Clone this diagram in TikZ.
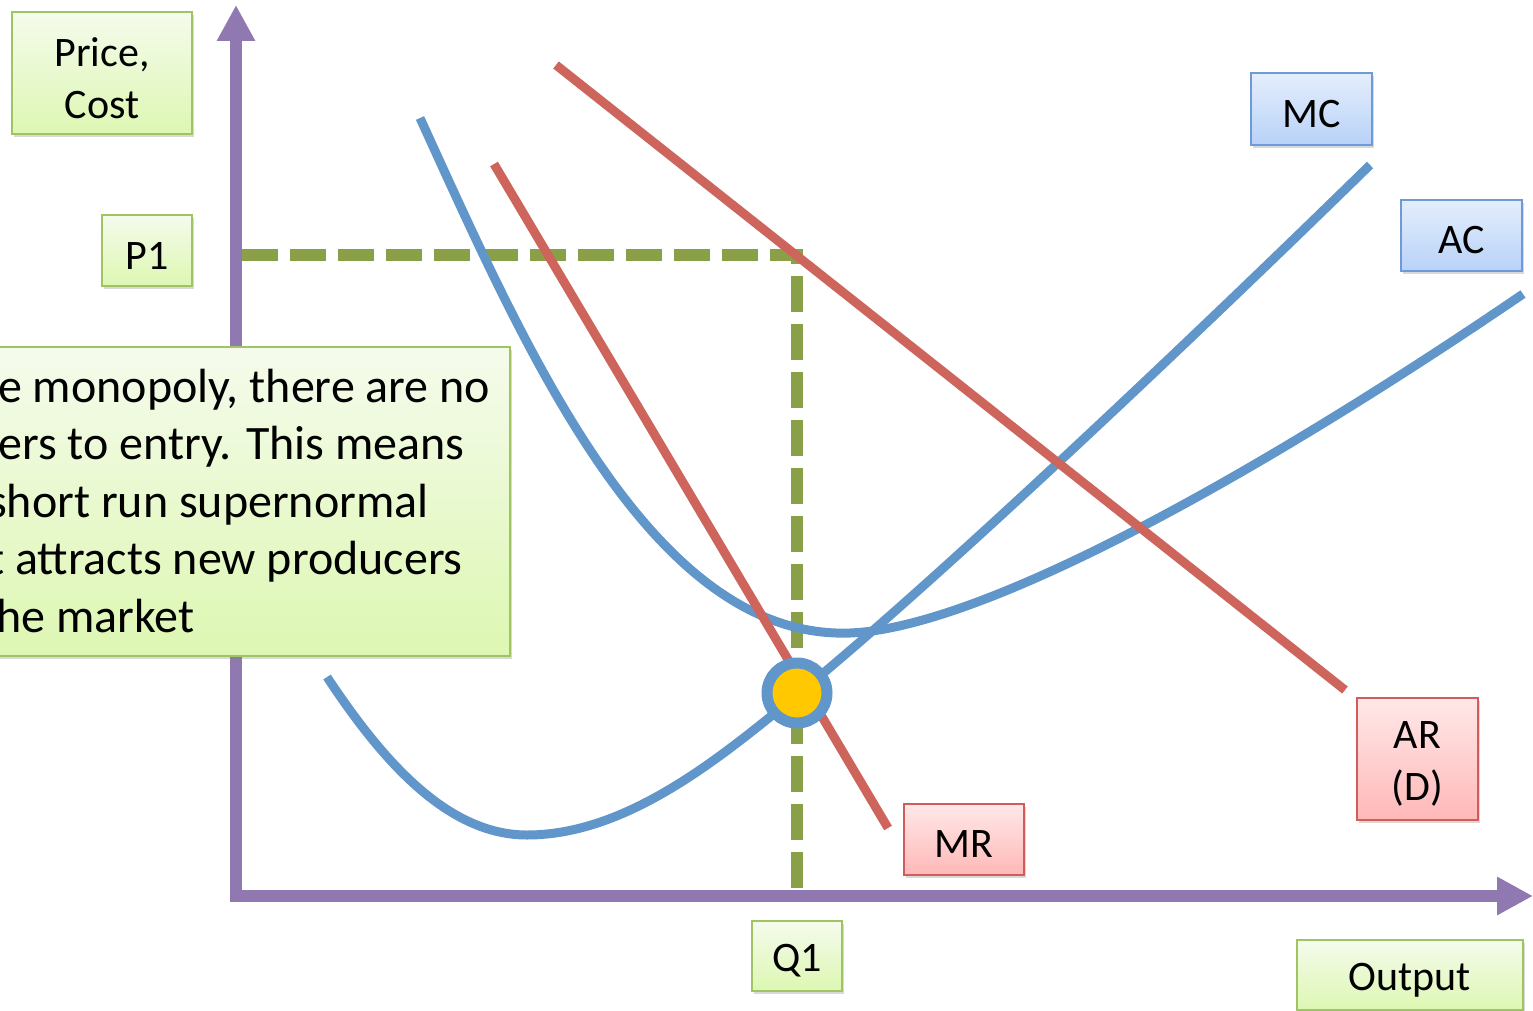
\documentclass[tikz,border=0pt]{standalone}
\usepackage{fontspec}
\setmainfont{Carlito}
\usetikzlibrary{shadows,arrows.meta}
\definecolor{axiscol}{RGB}{143,121,176}
\definecolor{dashcol}{RGB}{137,160,72}
\definecolor{bluecol}{RGB}{96,150,202}
\definecolor{redcol}{RGB}{206,101,92}
\definecolor{dotcol}{RGB}{255,200,0}
\definecolor{gborder}{RGB}{160,196,100}
\definecolor{gtop}{RGB}{245,251,236}
\definecolor{gbot}{RGB}{221,247,178}
\definecolor{bborder}{RGB}{110,155,215}
\definecolor{btop}{RGB}{228,238,252}
\definecolor{bbot}{RGB}{184,210,248}
\definecolor{rborder}{RGB}{210,92,92}
\definecolor{rtop}{RGB}{255,232,232}
\definecolor{rbot}{RGB}{255,184,184}
\newcommand\lowr[1]{\raisebox{-5pt}[\height][\depth]{#1}}
\begin{document}
\begin{tikzpicture}[x=1pt,y=-1pt,
  box/.style={line width=1.6pt, inner sep=0pt, align=center,
    font=\fontsize{42}{52}\selectfont,
    drop shadow={shadow xshift=2pt, shadow yshift=-3pt, opacity=0.3}},
  gbox/.style={box, draw=gborder, top color=gtop, bottom color=gbot},
  bbox/.style={box, draw=bborder, top color=btop, bottom color=bbot},
  rbox/.style={box, draw=rborder, top color=rtop, bottom color=rbot},
  axisline/.style={draw=axiscol, line width=12pt, -{Triangle[length=36pt,width=36pt]}},
  guide/.style={draw=dashcol, line width=12pt, dash pattern=on 36pt off 12pt},
  shd/.style={preaction={draw=black, opacity=0.15, transform canvas={xshift=1.5pt, yshift=-2.5pt}}},
  bluecurve/.style={draw=bluecol, line width=9pt, shd},
  redline/.style={draw=redcol, line width=9pt, shd},
  bodytext/.style={inner sep=0pt, anchor=base west, font=\fontsize{48}{57}\selectfont},
]
\useasboundingbox (0,0) rectangle (1533,1011);
\clip (0,0) rectangle (1533,1011);

% axes
\coordinate (O) at (236,896);
\coordinate (ybot) at (236,902);
\coordinate (ytop) at (236,5);
\coordinate (xbeg) at (230,896);
\coordinate (xend) at (1533,896);
\draw[axisline] (ybot) -- (ytop);
\draw[axisline] (xbeg) -- (xend);

% guides
\coordinate (gstart) at (242,255);
\coordinate (P) at (797,255);
\coordinate (Q) at (797,890);
\draw[guide] (gstart) -- (P) -- (Q);

% AC curve
\coordinate (ac0) at (420,118);
\coordinate (acmin) at (850,633);
\coordinate (ac1) at (1523,294);
\draw[bluecurve] (ac0) .. controls (524,345) and (650,640) .. (acmin)
  .. controls (980,628) and (1250,480) .. (ac1);
% MC curve
\coordinate (mc0) at (327,677);
\coordinate (mcmin) at (527,835);
\coordinate (mc1) at (1370,165);
\draw[bluecurve] (mc0) .. controls (382,760) and (447,835) .. (mcmin)
  .. controls (627,835) and (720,758) .. (797,695)
  .. controls (952,568) and (1227,305) .. (mc1);

\coordinate (ar1) at (556,65);
\coordinate (ar2) at (1345,690);
\coordinate (mr1) at (494,164);
\coordinate (mr2) at (888,828);
\draw[redline] (ar1) -- (ar2);
\draw[redline] (mr1) -- (mr2);

% equilibrium point
\node[circle, draw=bluecol, line width=11pt, fill=dotcol, minimum size=60pt, inner sep=0pt] (E) at (797,693) {};

% labels
\node[gbox, minimum width=180pt, minimum height=122pt] (price) at (102,73) {\lowr{Price,}\\\lowr{Cost}};
\node[gbox, minimum width=90pt, minimum height=71pt] (p1) at (147,250.5) {\lowr{P1}};
\node[bbox, minimum width=121pt, minimum height=72pt] (mc) at (1311.5,109) {\lowr{MC}};
\node[bbox, minimum width=121pt, minimum height=71pt] (ac) at (1461.5,235.5) {\lowr{AC}};
\node[rbox, minimum width=121pt, minimum height=122pt] (ar) at (1417.5,759) {\lowr{AR}\\\lowr{(D)}};
\node[rbox, minimum width=120pt, minimum height=71pt] (mr) at (964,839.5) {\lowr{MR}};
\node[gbox, minimum width=90pt, minimum height=70pt] (q1) at (797,956) {\lowr{Q1}};
\node[gbox, minimum width=226pt, minimum height=70pt] (out) at (1410,975) {\lowr{Output}};

% text box
\node[gbox, minimum width=530pt, minimum height=309pt] (tb) at (245,501.5) {};
\node[bodytext] (l1) at (-2,402) {e monopoly, there are no};
\node[bodytext] (l2) at (-2,459.5) {ers to entry. This means};
\node[bodytext] (l3) at (-12,517) {short run supernormal};
\node[bodytext] (l4) at (-12,574.5) {t attracts new producers};
\node[bodytext] (l5) at (-4,632) {he market};
\end{tikzpicture}
\end{document}
